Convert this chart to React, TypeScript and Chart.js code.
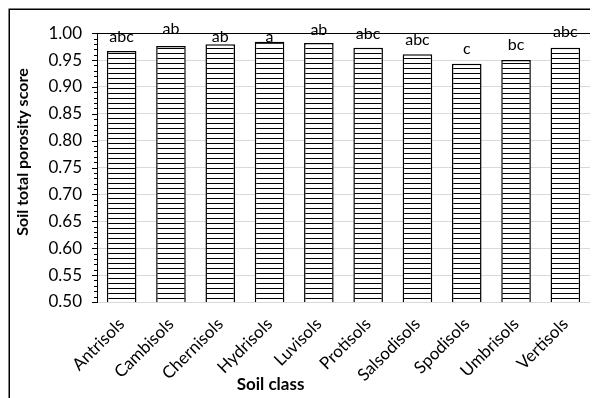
import React, { useEffect, useRef } from "react";
import { Chart, registerables } from "chart.js";

Chart.register(...registerables);

const categories = ["Antrisols", "Cambisols", "Chernisols", "Hydrisols", "Luvisols", "Protisols", "Salsodisols", "Spodisols", "Umbrisols", "Vertisols"];
const values = [0.967, 0.976, 0.9795, 0.984, 0.982, 0.973, 0.961, 0.943, 0.95, 0.973];
const errors = [0.017, 0.023, 0.004, 0.0005, 0.014, 0.016, 0.017, 0.019, 0.019, 0.02];
const letters = ["abc", "ab", "ab", "a", "ab", "abc", "abc", "c", "bc", "abc"];
const yTitle = "Soil total porosity score";
const xTitle = "Soil class";

const FONT = "Lato";

export default function App() {
  const ref = useRef<HTMLCanvasElement | null>(null);

  useEffect(() => {
    const canvas = ref.current;
    if (!canvas) return;
    const ctx = canvas.getContext("2d");
    if (!ctx) return;

    const pc = document.createElement("canvas");
    pc.width = 8;
    pc.height = 5;
    const pctx = pc.getContext("2d")!;
    pctx.fillStyle = "#ffffff";
    pctx.fillRect(0, 0, 8, 5);
    pctx.fillStyle = "#000000";
    pctx.fillRect(0, 0, 8, 1);
    const pattern = ctx.createPattern(pc, "repeat")!;

    const decor = {
      id: "decor",
      afterDatasetsDraw(chart: any) {
        const c = chart.ctx;
        const area = chart.chartArea;
        const ys = chart.scales.y;
        const xs = chart.scales.x;
        c.save();
        // right border
        c.strokeStyle = "#000";
        c.lineWidth = 1;
        c.beginPath();
        c.moveTo(Math.round(area.right) + 0.5, area.top);
        c.lineTo(Math.round(area.right) + 0.5, area.bottom);
        c.stroke();
        // minor/major ticks
        for (let i = 0; i <= 50; i++) {
          const v = 0.5 + i * 0.01;
          const y = Math.round(ys.getPixelForValue(v)) + 0.5;
          const len = i % 5 === 0 ? 5 : 3;
          c.beginPath();
          c.moveTo(area.left - len, y);
          c.lineTo(area.left, y);
          c.stroke();
        }
        // letters
        c.fillStyle = "#000";
        c.font = `16px ${FONT}`;
        c.textAlign = "center";
        c.textBaseline = "alphabetic";
        for (let i = 0; i < values.length; i++) {
          const x = xs.getPixelForValue(i);
          const y = ys.getPixelForValue(values[i] + errors[i]);
          c.fillText(letters[i], x, y);
        }
        // titles
        c.font = `bold 16px ${FONT}`;
        c.textBaseline = "middle";
        c.save();
        c.translate(14.5, 144);
        c.rotate(-Math.PI / 2);
        c.fillText(yTitle, 0, 0);
        c.restore();
        c.font = `bold 17px ${FONT}`;
        c.fillText(xTitle, 262.5, 377);
        // outer border (top and left)
        c.strokeStyle = "#000";
        c.lineWidth = 1.5;
        c.beginPath();
        c.moveTo(1.25, chart.height);
        c.lineTo(1.25, 1.25);
        c.lineTo(chart.width, 1.25);
        c.stroke();
        c.restore();
      },
    };

    const chart = new Chart(ctx, {
      type: "bar",
      data: {
        labels: categories,
        datasets: [
          {
            data: values,
            backgroundColor: pattern,
            borderColor: "#000",
            borderWidth: 1.5,
            barPercentage: 0.6,
            categoryPercentage: 1,
          },
        ],
      },
      options: {
        responsive: false,
        animation: false,
        devicePixelRatio: 1,
        layout: { padding: { left: 0, right: 8, top: 18, bottom: 0 } },
        plugins: { legend: { display: false }, tooltip: { enabled: false } },
        scales: {
          x: {
            grid: { display: false },
            border: { display: false },
            ticks: {
              minRotation: 45,
              maxRotation: 45,
              color: "#000",
              font: { family: FONT, size: 17 },
              padding: 4,
            },
            afterFit: (s: any) => {
              s.height = 96;
            },
          },
          y: {
            min: 0.5,
            max: 1.0,
            ticks: {
              stepSize: 0.05,
              color: "#000",
              font: { family: FONT, size: 17 },
              padding: 15,
              callback: (v: any) => Number(v).toFixed(2),
            },
            grid: {
              drawTicks: false,
              color: (c: any) => (c.tick && Math.abs(c.tick.value - 1) < 1e-6 ? "#000" : "#d9d9d9"),
              lineWidth: 1,
            },
            border: { display: true, color: "#000", width: 1 },
            afterFit: (s: any) => {
              s.width = 89;
            },
          },
        },
      },
      plugins: [decor],
    } as any);

    return () => chart.destroy();
  }, []);

  return (
    <div style={{ width: 590, height: 390, overflow: "hidden", background: "#fff" }}>
      <canvas ref={ref} width={590} height={390} style={{ display: "block" }} />
    </div>
  );
}
